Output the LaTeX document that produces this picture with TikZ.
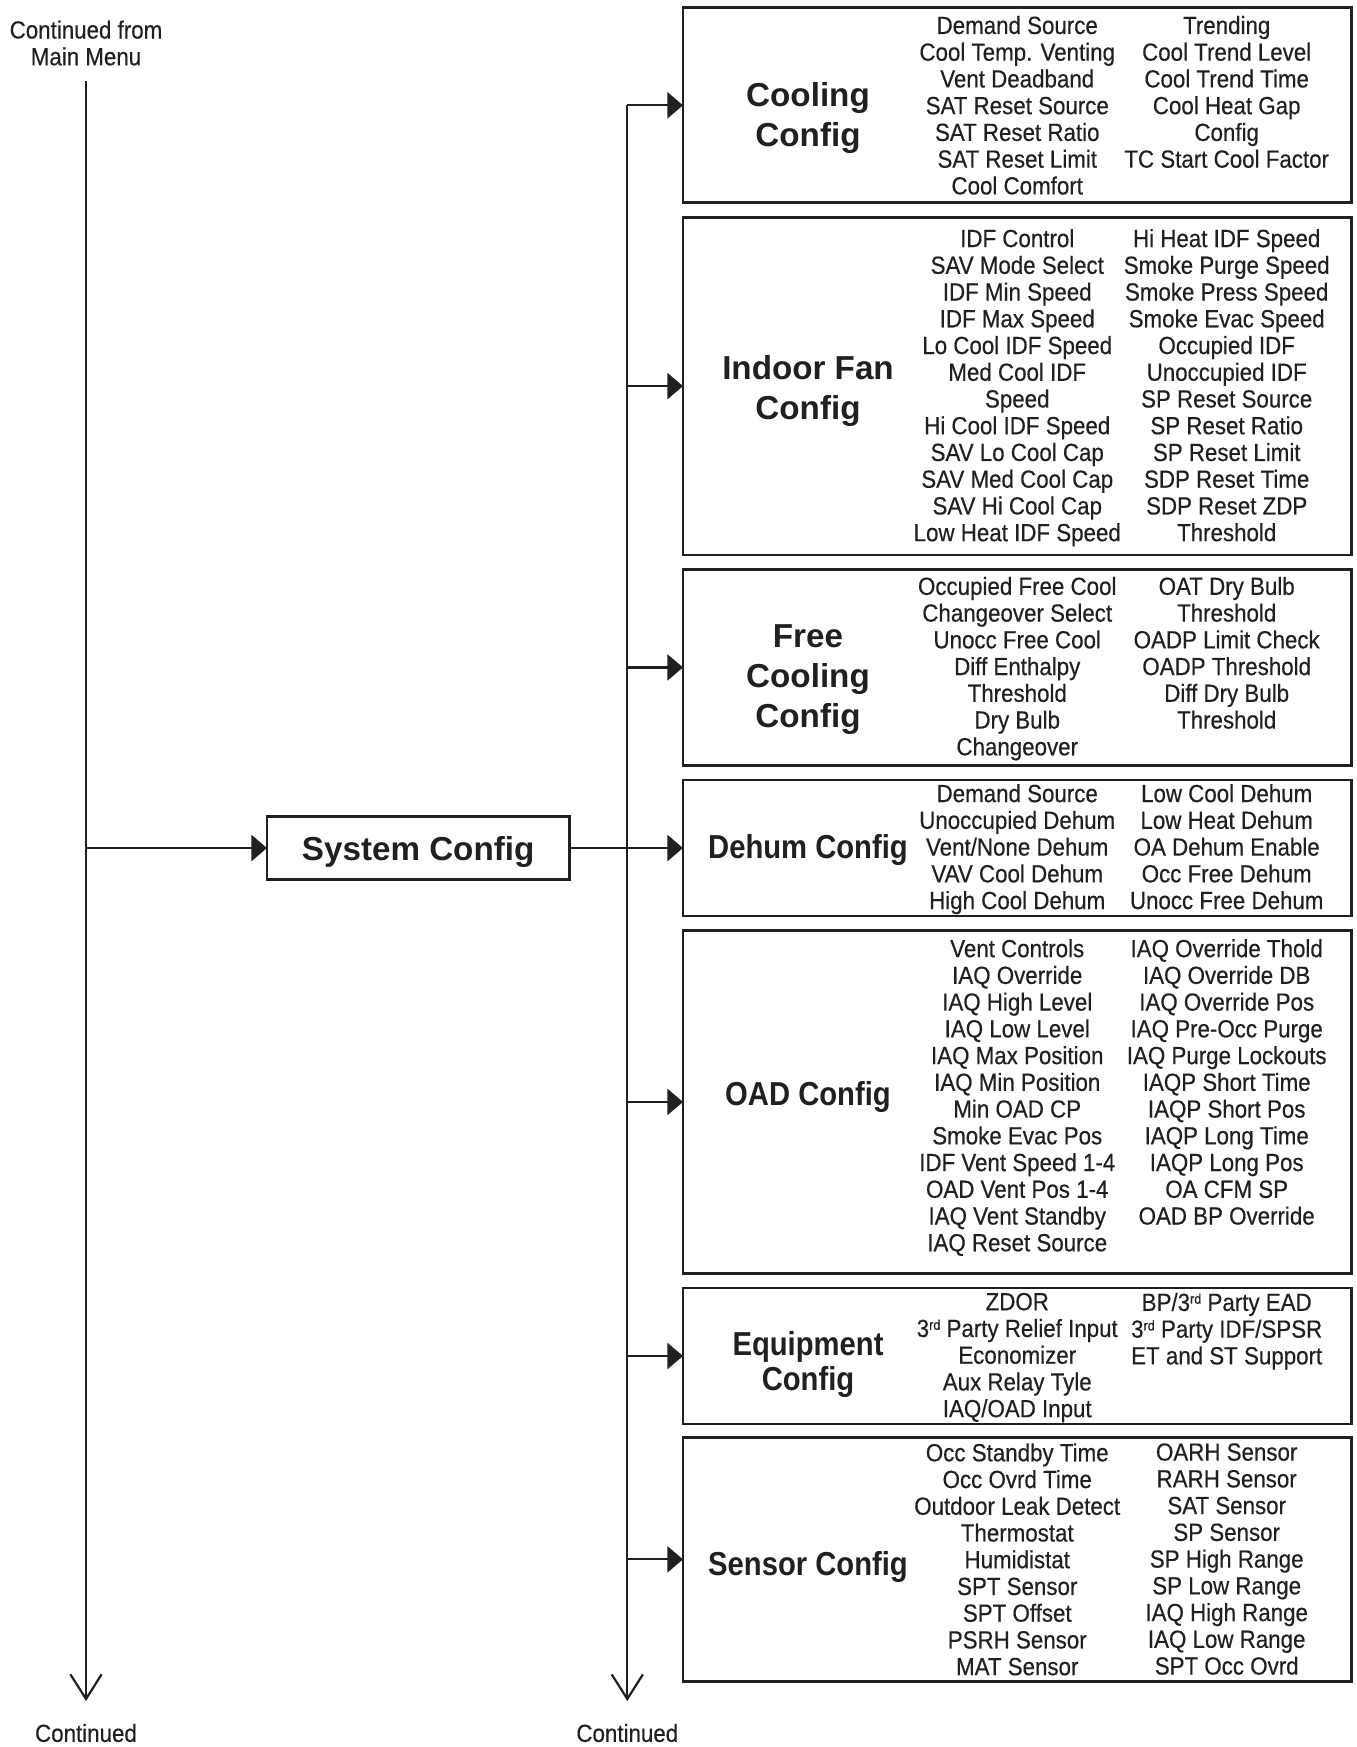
\documentclass[tikz,border=0pt]{standalone}
\usepackage{fontspec}
\setmainfont{Liberation Sans}
\newfontfamily\bodyfont{Liberation Sans}[FakeStretch=0.9, FakeBold=0.4]
\newfontfamily\narrowhead{Liberation Sans}[FakeStretch=0.88]
\usetikzlibrary{positioning,arrows.meta}
\definecolor{ink}{HTML}{231F20}
% small raised ordinal, kept clear of the line spacing
\newcommand{\ordsup}[1]{\raisebox{3.6pt}{\fontsize{7}{7}\selectfont #1}}

\tikzset{
  cfgbox/.style={draw=ink, line width=1.4pt, minimum width=334.25pt, outer sep=0pt, inner sep=0pt},
  item/.style={align=center, inner sep=0pt, text=ink, font=\bodyfont\fontsize{12.4}{13.37}\selectfont},
  head/.style={align=center, inner sep=0pt, text=ink, font=\bfseries\fontsize{16.6}{20}\selectfont},
  headn/.style={align=center, inner sep=0pt, text=ink, font=\narrowhead\bfseries\fontsize{16.6}{20}\selectfont},
  feed/.style={draw=ink, line width=1.1pt, -{Triangle[length=7.8pt,width=13pt]}},
  onward/.style={draw=ink, line width=1.1pt, -{Straight Barb[length=12.3pt,width=15.6pt]}},
}

\begin{document}
\begin{tikzpicture}[x=0.5pt, y=-0.5pt]
\useasboundingbox (0,0) rectangle (1356,1747);

% main line and the two columns of the menu
\coordinate (maintop) at (86,81.3);
\coordinate (mainend) at (86,1701);
\coordinate (busend) at (627.3,1701);
\coordinate (colB) at (1226.7,0);

\node[item] (from) at (86,43) {Continued from\\Main Menu};
\node[item] (contA) at (86,1733) {Continued};
\node[item] (contB) at (627.3,1733) {Continued};

% System Config
\node[draw=ink, line width=1.4pt, minimum width=151.2pt, minimum height=31.2pt, outer sep=0pt, font=\bfseries\fontsize{16.6}{20}\selectfont, text=ink]
(sys) at (418.2,848) {\raisebox{-6.3pt}[0pt][0pt]{System Config}};

% Cooling Config
\node[cfgbox, minimum height=97.5pt] (cool) at (1017.25,105.3) {};
\node[head] (coolT) at (808,118.3) {Cooling\\Config};
\node[item] (coolA) at (cool.center) {Demand Source\\Cool Temp. Venting\\Vent Deadband\\SAT Reset Source\\SAT Reset Ratio\\SAT Reset Limit\\Cool Comfort};
\node[item, anchor=north] (coolB) at (coolA.north -| colB) {Trending\\Cool Trend Level\\Cool Trend Time\\Cool Heat Gap\\Config\\TC Start Cool Factor};

% Indoor Fan Config
\node[cfgbox, minimum height=168.8pt, below=7.25pt of cool] (indoor) {};
\node[head] (indoorT) at (808,391.2) {Indoor Fan\\Config};
\node[item, yshift=-0.8pt] (indoorA) at (indoor.center) {IDF Control\\SAV Mode Select\\IDF Min Speed\\IDF Max Speed\\Lo Cool IDF Speed\\Med Cool IDF\\Speed\\Hi Cool IDF Speed\\SAV Lo Cool Cap\\SAV Med Cool Cap\\SAV Hi Cool Cap\\Low Heat IDF Speed};
\node[item, anchor=north] (indoorB) at (indoorA.north -| colB) {Hi Heat IDF Speed\\Smoke Purge Speed\\Smoke Press Speed\\Smoke Evac Speed\\Occupied IDF\\Unoccupied IDF\\SP Reset Source\\SP Reset Ratio\\SP Reset Limit\\SDP Reset Time\\SDP Reset ZDP\\Threshold};

% Free Cooling Config
\node[cfgbox, minimum height=98.05pt, below=7.25pt of indoor] (free) {};
\node[head] (freeT) at (808,679.8) {Free\\Cooling\\Config};
\node[item, yshift=-0.6pt] (freeA) at (free.center) {Occupied Free Cool\\Changeover Select\\Unocc Free Cool\\Diff Enthalpy\\Threshold\\Dry Bulb\\Changeover};
\node[item, anchor=north] (freeB) at (freeA.north -| colB) {OAT Dry Bulb\\Threshold\\OADP Limit Check\\OADP Threshold\\Diff Dry Bulb\\Threshold};

% Dehum Config
\node[cfgbox, minimum height=67.95pt, below=7.25pt of free] (dehum) {};
\node[headn] (dehumT) at (808,850.3) {Dehum Config};
\node[item, yshift=-0.6pt] (dehumA) at (dehum.center) {Demand Source\\Unoccupied Dehum\\Vent/None Dehum\\VAV Cool Dehum\\High Cool Dehum};
\node[item, anchor=north] (dehumB) at (dehumA.north -| colB) {Low Cool Dehum\\Low Heat Dehum\\OA Dehum Enable\\Occ Free Dehum\\Unocc Free Dehum};

% OAD Config
\node[cfgbox, minimum height=171.55pt, below=7.25pt of dehum] (oad) {};
\node[headn] (oadT) at (808,1096.5) {OAD Config};
\node[item, yshift=2.2pt] (oadA) at (oad.center) {Vent Controls\\IAQ Override\\IAQ High Level\\IAQ Low Level\\IAQ Max Position\\IAQ Min Position\\Min OAD CP\\Smoke Evac Pos\\IDF Vent Speed 1-4\\OAD Vent Pos 1-4\\IAQ Vent Standby\\IAQ Reset Source};
\node[item, anchor=north] (oadB) at (oadA.north -| colB) {IAQ Override Thold\\IAQ Override DB\\IAQ Override Pos\\IAQ Pre-Occ Purge\\IAQ Purge Lockouts\\IAQP Short Time\\IAQP Short Pos\\IAQP Long Time\\IAQP Long Pos\\OA CFM SP\\OAD BP Override};

% Equipment Config
\node[cfgbox, minimum height=68pt, below=7.25pt of oad] (equip) {};
\node[headn] (equipT) at (808,1364.5) {Equipment\\[-2.7pt]Config};
\node[item, yshift=-0.8pt] (equipA) at (equip.center) {ZDOR\\3\ordsup{rd} Party Relief Input\\Economizer\\Aux Relay Tyle\\IAQ/OAD Input};
\node[item, anchor=north] (equipB) at (equipA.north -| colB) {BP/3\ordsup{rd} Party EAD\\3\ordsup{rd} Party IDF/SPSR\\ET and ST Support};

% Sensor Config
\node[cfgbox, minimum height=122.15pt, below=6.6pt of equip] (sensor) {};
\node[headn] (sensorT) at (808,1566.7) {Sensor Config};
\node[item] (sensorA) at (sensor.center) {Occ Standby Time\\Occ Ovrd Time\\Outdoor Leak Detect\\Thermostat\\Humidistat\\SPT Sensor\\SPT Offset\\PSRH Sensor\\MAT Sensor};
\node[item, anchor=north] (sensorB) at (sensorA.north -| colB) {OARH Sensor\\RARH Sensor\\SAT Sensor\\SP Sensor\\SP High Range\\SP Low Range\\IAQ High Range\\IAQ Low Range\\SPT Occ Ovrd};

% connectors
\draw[onward] (maintop) -- (mainend);
\draw[feed] (maintop |- sys.west) -- (sys.west);
\draw[onward] (busend |- cool.west) -- (busend);
\draw[feed] (busend |- cool.west) -- (cool.west);
\draw[feed] (sys.east) -- (sys.east -| dehum.west);
\foreach \b in {indoor,free,oad,equip,sensor}
  \draw[feed] (busend |- \b.west) -- (\b.west);

\end{tikzpicture}
\end{document}
